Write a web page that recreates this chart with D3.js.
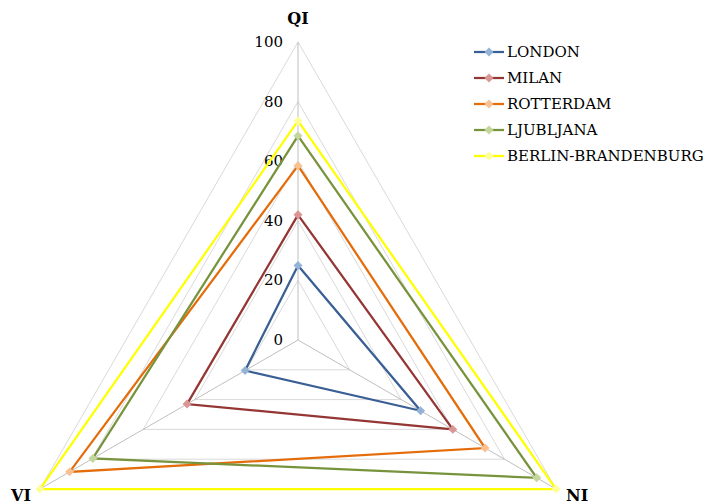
<!DOCTYPE html>
<html>
<head>
<meta charset="utf-8">
<script src="https://cdn.jsdelivr.net/npm/d3@7"></script>
<style>
  body { margin: 0; background: #fff; }
  text { font-family: "DejaVu Serif", serif; fill: #000; }
</style>
</head>
<body>
<div id="chart"></div>
<script>
var width = 709, height = 504;

// data
var axes = ["QI", "NI", "VI"];
var cities = ["LONDON", "MILAN", "ROTTERDAM", "LJUBLJANA", "BERLIN-BRANDENBURG"];
var london = [25, 47.5, 20.5];
var milan = [42, 60, 43];
var rotterdam = [58.5, 72.5, 88.5];
var ljubljana = [68.5, 92.5, 79.5];
var berlin = [73.5, 100, 100];
var ticks = [0, 20, 40, 60, 80, 100];

var series = [london, milan, rotterdam, ljubljana, berlin];
var lineColors = ["#3A5F94", "#943634", "#E46C0A", "#77933C", "#FFFF00"];
var markColors = ["#95B3D7", "#D99694", "#FAC090", "#C3D69B", "#FFFF99"];

var cx = 298, cy = 340;
var r = d3.scaleLinear().domain([0, 100]).range([0, 298]);
var angle = d3.scaleOrdinal().domain(axes).range([-Math.PI / 2, Math.PI / 6, 5 * Math.PI / 6]);

function pt(axis, v) {
    var a = angle(axis);
    return [cx + r(v) * Math.cos(a), cy + r(v) * Math.sin(a)];
}

var svg = d3.select("#chart").append("svg")
    .attr("width", width)
    .attr("height", height);

// grid triangles
svg.selectAll("path.grid")
    .data(ticks.slice(1))
    .enter()
    .append("path")
    .attr("class", "grid")
    .attr("d", function(t) {
        return d3.line()(axes.map(function(a) { return pt(a, t); })) + "Z";
    })
    .style("fill", "none")
    .style("stroke", "#D9D9D9")
    .style("stroke-width", 1);

// spokes
svg.selectAll("line.spoke")
    .data(axes)
    .enter()
    .append("line")
    .attr("x1", cx).attr("y1", cy)
    .attr("x2", function(a) { return pt(a, 100)[0]; })
    .attr("y2", function(a) { return pt(a, 100)[1]; })
    .style("stroke", "#BFBFBF")
    .style("stroke-width", 1);

// tick labels
svg.selectAll("text.tick")
    .data(ticks)
    .enter()
    .append("text")
    .attr("x", cx - 15)
    .attr("y", function(t) { return cy - r(t) + 5; })
    .attr("text-anchor", "end")
    .style("font-size", "15px")
    .text(function(t) { return t; });

// series
var diamond = d3.symbol().type(d3.symbolSquare).size(40);
series.forEach(function(vals, i) {
    var pts = axes.map(function(a, j) { return pt(a, vals[j]); });
    svg.append("path")
        .attr("d", d3.line()(pts) + "Z")
        .style("fill", "none")
        .style("stroke", lineColors[i])
        .style("stroke-width", 2.25)
        .style("stroke-linejoin", "miter");
    svg.selectAll("path.m" + i)
        .data(pts)
        .enter()
        .append("path")
        .attr("class", "m" + i)
        .attr("d", diamond)
        .attr("transform", function(p) { return "translate(" + p[0] + "," + p[1] + ") rotate(45)"; })
        .style("fill", markColors[i]);
});

// axis labels
var labelPos = { "QI": [cx, 24, "middle"], "NI": [566, 501, "start"], "VI": [31, 501, "end"] };
svg.selectAll("text.axis")
    .data(axes)
    .enter()
    .append("text")
    .attr("x", function(a) { return labelPos[a][0]; })
    .attr("y", function(a) { return labelPos[a][1]; })
    .attr("text-anchor", function(a) { return labelPos[a][2]; })
    .style("font-size", "16px")
    .style("font-weight", "bold")
    .text(function(a) { return a; });

// legend
var legend = svg.selectAll("g.legend")
    .data(cities)
    .enter()
    .append("g")
    .attr("transform", function(d, i) { return "translate(474," + (52 + i * 26) + ")"; });

legend.append("line")
    .attr("x1", 0).attr("x2", 30)
    .style("stroke", function(d, i) { return lineColors[i]; })
    .style("stroke-width", 2.25);

legend.append("path")
    .attr("d", diamond)
    .attr("transform", "translate(15,0) rotate(45)")
    .style("fill", function(d, i) { return markColors[i]; });

legend.append("text")
    .attr("x", 33)
    .attr("y", 5)
    .style("font-size", "15px")
    .text(function(d) { return d; });
</script>
</body>
</html>
